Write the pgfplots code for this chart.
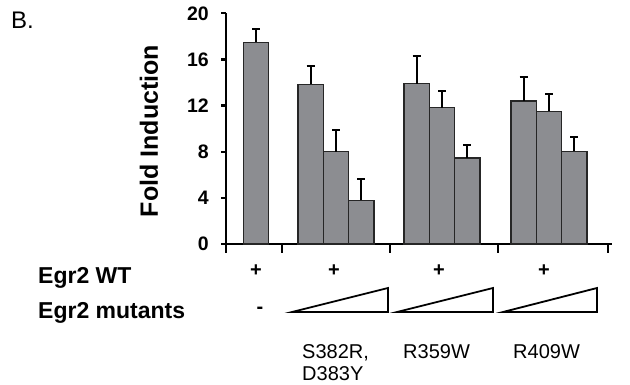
\documentclass[border=0pt]{standalone}
\usepackage{fontspec}
\setmainfont{Liberation Sans}
\usepackage{pgfplots}
\pgfplotsset{compat=1.18}
\definecolor{bargray}{RGB}{140,141,145}
\begin{document}
\begin{tikzpicture}[x=1pt,y=1pt]
\useasboundingbox (0,0) rectangle (630,384);
\begin{axis}[
  at={(226pt,140pt)}, anchor=south west,
  scale only axis, width=386pt, height=230.7pt,
  xmin=0, xmax=386, ymin=0, ymax=20,
  axis x line=bottom, axis y line=left,
  axis line style={-, line width=2.2pt, black},
  ytick={0,4,8,12,16,20}, xtick=\empty,
  tick align=outside, major tick length=5pt,
  tick style={line width=2.2pt, black},
  yticklabel style={font=\bfseries\fontsize{19.5}{19.5}\selectfont, anchor=east, inner sep=0pt, xshift=-12pt},
  /pgf/number format/assume math mode=true,
  clip=false,
  ybar, bar width=25.3pt,
]
\addplot[fill=bargray, draw=black!85, line width=1.2pt,
  error bars/.cd, y dir=plus, y explicit,
  error bar style={line width=2pt, black},
  error mark options={rotate=90, mark size=4pt, line width=2pt, black}]
coordinates {
  (30,17.5) +- (0,1.1)
  (84.7,13.85) +- (0,1.6)
  (110,8.0) +- (0,1.9)
  (135.3,3.8) +- (0,1.85)
  (190.7,13.9) +- (0,2.4)
  (216,11.8) +- (0,1.5)
  (241.3,7.45) +- (0,1.15)
  (297.7,12.4) +- (0,2.1)
  (323,11.5) +- (0,1.5)
  (348.3,8.05) +- (0,1.2)
};
\draw[line width=2.2pt, black] (axis cs:0,0) -- ++(0,-9pt);
\draw[line width=2.2pt, black] (axis cs:56,0) -- ++(0,-9pt);
\draw[line width=2.2pt, black] (axis cs:164,0) -- ++(0,-9pt);
\draw[line width=2.2pt, black] (axis cs:272,0) -- ++(0,-9pt);
\draw[line width=2.2pt, black] (axis cs:382,0) -- ++(0,-9pt);
\end{axis}
% y label
\node[rotate=90, font=\bfseries\fontsize{25}{25}\selectfont] at (149,253) {Fold Induction};
% panel letter
\node[anchor=west, font=\fontsize{24}{24}\selectfont, inner sep=0pt] at (11,364) {B.};
% row labels
\node[anchor=base west, font=\bfseries\fontsize{23}{23}\selectfont, inner sep=0pt] at (38,100.7) {Egr2 WT};
\node[anchor=base west, font=\bfseries\fontsize{23}{23}\selectfont, inner sep=0pt] at (38,65.7) {Egr2 mutants};
% plus signs
\foreach \px in {256,334,439,544}{
  \node[font=\bfseries\fontsize{20}{20}\selectfont, inner sep=0pt] at (\px,113) {+};
}
\node[font=\bfseries\fontsize{20}{20}\selectfont, inner sep=0pt] at (260,74) {-};
% triangles
\draw[line width=1.8pt, line join=miter] (292,72) -- (388,72) -- (388,96) -- cycle;
\draw[line width=1.8pt, line join=miter] (397,72) -- (493,72) -- (493,96) -- cycle;
\draw[line width=1.8pt, line join=miter] (503,72) -- (597,72) -- (597,96) -- cycle;
% mutant names
\node[anchor=base west, font=\fontsize{20}{20}\selectfont, inner sep=0pt] at (302,26) {S382R,};
\node[anchor=base west, font=\fontsize{20}{20}\selectfont, inner sep=0pt] at (302,3.5) {D383Y};
\node[anchor=base west, font=\fontsize{20}{20}\selectfont, inner sep=0pt] at (403,26) {R359W};
\node[anchor=base west, font=\fontsize{20}{20}\selectfont, inner sep=0pt] at (513,26) {R409W};
\end{tikzpicture}
\end{document}
